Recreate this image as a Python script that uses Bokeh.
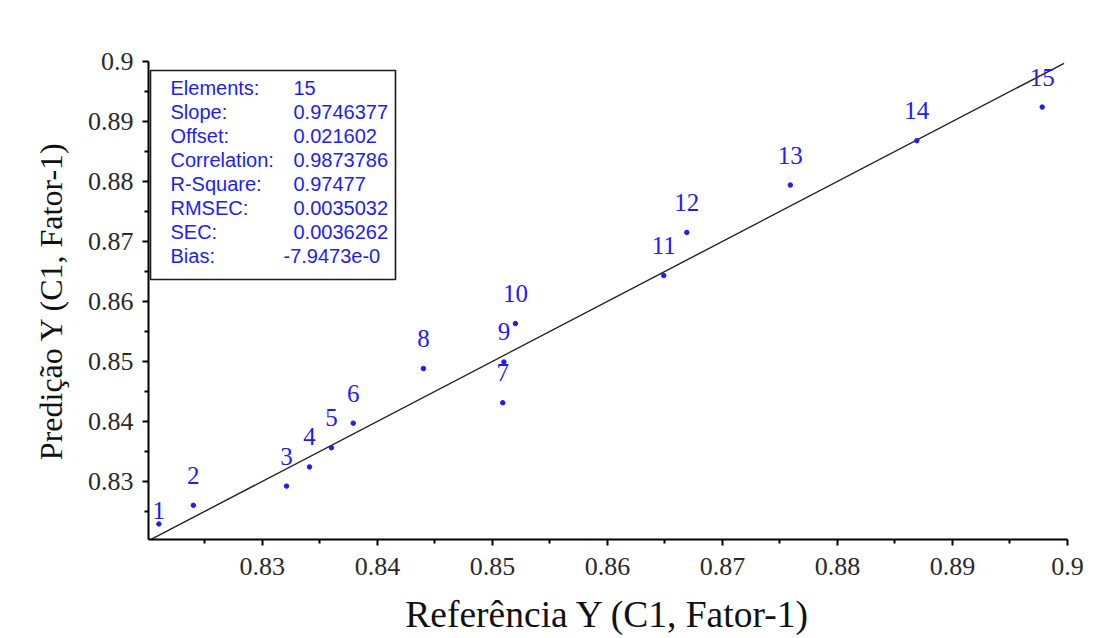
from bokeh.plotting import figure
from bokeh.models import Range1d, FixedTicker, BoxAnnotation
from bokeh.core.properties import value
from bokeh.embed import file_html
from bokeh.resources import INLINE

# ---------------- data ----------------
sample_ids = [str(i) for i in range(1, 16)]
referencia = [0.8210, 0.8240, 0.8321, 0.8341, 0.8360, 0.8379, 0.8509, 0.8440,
              0.8510, 0.8520, 0.8649, 0.8669, 0.8759, 0.8869, 0.8978]
predicao = [0.8229, 0.8260, 0.8292, 0.8324, 0.8356, 0.8397, 0.8431, 0.8488,
            0.8499, 0.8563, 0.8643, 0.8715, 0.8794, 0.8868, 0.8924]
tick_values = [0.83, 0.84, 0.85, 0.86, 0.87, 0.88, 0.89, 0.9]
tick_labels = ["0.83", "0.84", "0.85", "0.86", "0.87", "0.88", "0.89", "0.9"]
minor_values = [0.825, 0.835, 0.845, 0.855, 0.865, 0.875, 0.885, 0.895]
stat_names = ["Elements:", "Slope:", "Offset:", "Correlation:", "R-Square:",
              "RMSEC:", "SEC:", "Bias:"]
stat_values = ["15", "0.9746377", "0.021602", "0.9873786", "0.97477",
               "0.0035032", "0.0036262", "-7.9473e-0"]

# ---------------- layout ----------------
W, H = 1113, 638
FL, FR, FT, FB = 148, 1067, 61, 539
X0, X1 = 0.8201, 0.9
Y0, Y1 = 0.8203, 0.9
BLUE = "#1c1cff"


def px2x(px):
    return X0 + (px - FL) / (FR - FL) * (X1 - X0)


def py2y(py):
    return Y1 - (py - FT) / (FB - FT) * (Y1 - Y0)


p = figure(width=W, height=H, output_backend="svg", toolbar_location=None,
           x_range=Range1d(X0, X1), y_range=Range1d(Y0, Y1),
           min_border_left=FL, min_border_right=W - FR,
           min_border_top=FT, min_border_bottom=H - FB,
           x_axis_label="Referência Y (C1, Fator-1)",
           y_axis_label="Predição Y (C1, Fator-1)")
p.outline_line_color = None
p.background_fill_color = "white"
p.border_fill_color = "white"
p.xgrid.visible = False
p.ygrid.visible = False

for ax in (p.xaxis[0], p.yaxis[0]):
    ax.ticker = FixedTicker(ticks=tick_values, minor_ticks=minor_values)
    ax.major_label_overrides = {v: l for v, l in zip(tick_values, tick_labels)}
    ax.axis_line_color = "black"
    ax.axis_line_width = 2
    ax.major_tick_line_color = "black"
    ax.minor_tick_line_color = "black"
    ax.major_tick_line_width = 2
    ax.minor_tick_line_width = 2
    ax.major_tick_in = 0
    ax.major_tick_out = 6
    ax.minor_tick_in = 0
    ax.minor_tick_out = 4
    ax.major_label_text_font = "Liberation Serif"
    ax.major_label_text_font_size = "26px"
    ax.major_label_text_color = "#2a2a2a"
    ax.axis_label_text_font = "Liberation Serif"
    ax.axis_label_text_font_style = "normal"
    ax.axis_label_text_color = "#111111"

p.xaxis[0].major_label_standoff = 12
p.yaxis[0].major_label_standoff = 9
p.xaxis[0].axis_label_text_font_size = "37.5px"
p.xaxis[0].axis_label_standoff = 16
p.yaxis[0].axis_label_text_font_size = "32px"
p.yaxis[0].axis_label_standoff = 16

# identity / target line
p.line([X0, 0.8997], [X0, 0.8997], line_color="#222222", line_width=1.4)

# points
p.scatter(referencia, predicao, size=4.5, color=BLUE)

# point labels
offsets = [-13 if i == 0 else -30 for i in range(len(sample_ids))]
p.text(referencia, predicao, text=sample_ids, text_align="center",
       text_baseline="middle", y_offset=offsets,
       text_font=value("Liberation Serif"), text_font_size=value("25px"),
       text_color=BLUE)

# statistics box
box = BoxAnnotation(left=px2x(150), right=px2x(395), top=py2y(70), bottom=py2y(279),
                    fill_color="white", fill_alpha=1.0, line_color="#1a1a1a",
                    line_alpha=1.0, line_width=1.6, level="underlay")
p.add_layout(box)

row_y = [py2y(87 + 24 * i) for i in range(len(stat_names))]
p.text([px2x(170)] * len(stat_names), row_y, text=stat_names,
       text_baseline="middle", text_align="left",
       text_font=value("Liberation Sans"), text_font_size=value("20px"),
       text_color=BLUE)
val_x = [px2x(283) if v.startswith("-") else px2x(293) for v in stat_values]
p.text(val_x, row_y, text=stat_values,
       text_baseline="middle", text_align="left",
       text_font=value("Liberation Sans"), text_font_size=value("20px"),
       text_color=BLUE)

open("out.html", "w").write(file_html(p, INLINE))
